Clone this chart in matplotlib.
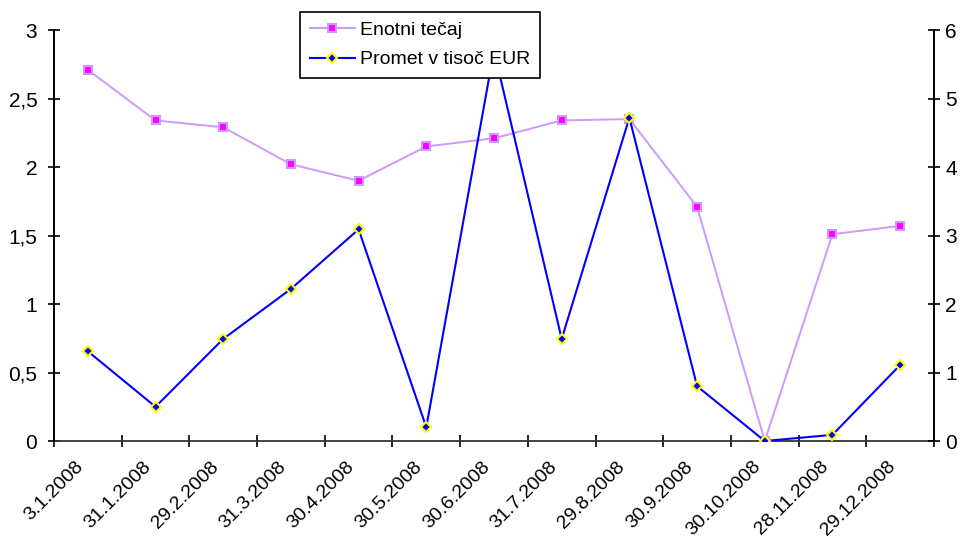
"""
Enotni tečaj in promet v tisoč EUR po mesecih 2008.
"""
import numpy as np
import matplotlib
matplotlib.use("Agg")
import matplotlib.pyplot as plt
import matplotlib.transforms as mtransforms

plt.rcParams['font.family'] = ['Liberation Sans', 'DejaVu Sans']

dates = ['3.1.2008', '31.1.2008', '29.2.2008', '31.3.2008', '30.4.2008',
         '30.5.2008', '30.6.2008', '31.7.2008', '29.8.2008', '30.9.2008',
         '30.10.2008', '28.11.2008', '29.12.2008']
tecaj = [2.71, 2.34, 2.29, 2.02, 1.90, 2.15, 2.21, 2.34, 2.35, 1.71, 0.0, 1.51, 1.57]
promet = [1.31, 0.50, 1.49, 2.22, 3.09, 0.20, 5.7, 1.49, 4.72, 0.80, 0.0, 0.09, 1.11]

x = np.arange(len(dates))

fig = plt.figure(figsize=(9.62, 5.39), dpi=100)
ax = fig.add_axes([0.0561, 0.1818, 0.9148, 0.7625])
ax2 = ax.twinx()

l1, = ax.plot(x, tecaj, color='#CC99FF', lw=1.4, marker='s', ms=6,
              mfc='#FF00FF', mec='#CC99FF', mew=1.5, label='Enotni tečaj')
l2, = ax2.plot(x, promet, color='#0000FF', lw=1.5, marker='D', ms=5,
               mfc='#0000FF', mec='#FFFF00', mew=1.5, label='Promet v tisoč EUR')

ax.set_xlim(-0.5, len(dates) - 0.5)
ax.set_ylim(0, 3)
ax2.set_ylim(0, 6)
ax.set_yticks(np.arange(0, 3.01, 0.5))
ax.set_yticklabels(['0', '0,5', '1', '1,5', '2', '2,5', '3'])
ax2.set_yticks(range(7))

# category ticks between points, labels centred on points (drawn as texts)
ax.set_xticks(np.arange(-0.5, len(dates), 1.0))
ax.set_xticklabels([])
lab_tr = (mtransforms.blended_transform_factory(ax.transData, ax.transAxes)
          + mtransforms.ScaledTranslation(-13 / 100, -17 / 100, fig.dpi_scale_trans))
for i, d in zip(x, dates):
    ax.text(i, 0, d, transform=lab_tr, rotation=45, ha='right', va='top',
            rotation_mode='anchor', fontsize=14, clip_on=False)
ax.tick_params(axis='x', which='major', direction='inout', length=8, width=1.2)
ax.tick_params(axis='y', direction='inout', length=8, width=1.2, labelsize=15, pad=8)
ax2.tick_params(axis='y', direction='inout', length=8, width=1.2, labelsize=15, pad=4)

for a in (ax, ax2):
    a.spines['top'].set_visible(False)
    for s in ('left', 'right', 'bottom'):
        a.spines[s].set_linewidth(1.3)
        a.spines[s].set_color('black')
ax.spines['bottom'].set_color('#333333')
ax2.spines['bottom'].set_visible(False)

leg = ax2.legend(handles=[l1, l2], loc='upper left',
                 bbox_to_anchor=(0.312, 0.978), bbox_transform=fig.transFigure,
                 fancybox=False, framealpha=1, edgecolor='black', fontsize=14,
                 handlelength=2.3, handletextpad=0.3, borderaxespad=0,
                 borderpad=0.5, labelspacing=0.6)
leg.get_frame().set_linewidth(1.2)

fig.savefig('out.png', dpi=100)
